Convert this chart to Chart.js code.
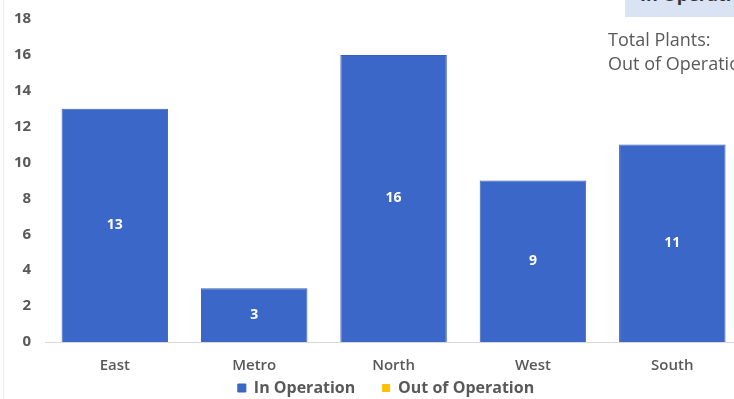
<!DOCTYPE html>
<html>
<head>
<meta charset="utf-8">
<script src="https://cdn.jsdelivr.net/npm/chart.js@4"></script>
<style>
  html, body { margin: 0; padding: 0; background: #fff; overflow: hidden; }
  #wrap { position: relative; width: 734px; height: 399px; overflow: hidden; }
  #chartBox { position: absolute; left: 0; top: -4px; width: 742px; height: 410px; }
  #edge { position: absolute; left: 3px; top: 0; width: 0; height: 399px; border-left: 1px solid #ececec; }
  #status { position: absolute; left: 625px; top: 0; width: 120px; height: 17px; background: #dae3f3; overflow: hidden; }
  #status span { position: absolute; left: 15px; top: -16px; font: bold 18px/20px "Open Sans", sans-serif; color: #333; white-space: nowrap; }
  #totals { position: absolute; left: 608px; top: 27px; font: 18px/24px "Open Sans", sans-serif; color: #595959; white-space: nowrap; }
</style>
</head>
<body>
<div id="wrap">
  <div id="chartBox"><canvas id="plants"></canvas></div>
  <div id="edge"></div>
  <div id="status"><span>In Operation</span></div>
  <div id="totals">Total Plants:<br>Out of Operation</div>
</div>
<script>
const regions = ['East', 'Metro', 'North', 'West', 'South'];
const inOperation = [13, 3, 16, 9, 11];
const outOfOperation = [0, 0, 0, 0, 0];
const yTicks = [0, 2, 4, 6, 8, 10, 12, 14, 16, 18];

const axisGray = '#595959';

// white value labels centred in each bar
const barLabels = {
  id: 'barLabels',
  afterDatasetsDraw(chart) {
    const ctx = chart.ctx;
    ctx.save();
    ctx.font = 'bold 14px "Open Sans", sans-serif';
    ctx.fillStyle = '#ffffff';
    ctx.textAlign = 'center';
    ctx.textBaseline = 'middle';
    chart.data.datasets.forEach((ds, i) => {
      const meta = chart.getDatasetMeta(i);
      meta.data.forEach((bar, j) => {
        const v = ds.data[j];
        if (!v) return;
        const mid = (bar.y + bar.base) / 2;
        ctx.fillText(String(v), bar.x, mid);
      });
    });
    ctx.restore();
  }
};

// nudge the legend so it sits under the middle of the plot area
const legendShift = {
  id: 'legendShift',
  afterLayout(chart) {
    const lg = chart.legend;
    if (!lg) return;
    lg.left += 15;
    lg.right += 15;
  }
};

new Chart(document.getElementById('plants'), {
  type: 'bar',
  data: {
    labels: regions,
    datasets: [
      {
        label: 'In Operation',
        data: inOperation,
        backgroundColor: '#3b67c8',
        borderColor: '#3761bd',
        borderWidth: 1,
        categoryPercentage: 0.764,
        barPercentage: 1
      },
      {
        label: 'Out of Operation',
        data: outOfOperation,
        backgroundColor: '#ffc000',
        categoryPercentage: 0.764,
        barPercentage: 1
      }
    ]
  },
  options: {
    responsive: true,
    maintainAspectRatio: false,
    animation: false,
    layout: { padding: { top: 0, left: 0, right: 0, bottom: 0 } },
    plugins: {
      legend: {
        position: 'bottom',
        labels: {
          color: axisGray,
          font: { family: '"Open Sans", sans-serif', size: 16, weight: 'bold' },
          boxWidth: 8,
          boxHeight: 8,
          padding: 6,
          // wider gap after the first entry
          generateLabels(chart) {
            const items = Chart.defaults.plugins.legend.labels.generateLabels(chart);
            items[0].text += '     ';
            return items;
          }
        }
      },
      tooltip: { enabled: false }
    },
    scales: {
      x: {
        stacked: true,
        grid: { display: false, drawTicks: false },
        border: { display: true, color: '#d9d9d9' },
        ticks: {
          color: axisGray,
          padding: 15,
          font: { family: '"Open Sans", sans-serif', size: 15, weight: '600' }
        },
        afterFit: (axis) => { axis.height = 32; }
      },
      y: {
        stacked: true,
        min: 0,
        max: 18,
        grid: { display: false, drawTicks: false },
        border: { display: false },
        afterBuildTicks: (axis) => { axis.ticks = yTicks.map(v => ({ value: v })); },
        ticks: {
          color: axisGray,
          padding: 14,
          font: { family: '"Open Sans", sans-serif', size: 15, weight: 'bold' }
        }
      }
    }
  },
  plugins: [barLabels, legendShift]
});
</script>
</body>
</html>
